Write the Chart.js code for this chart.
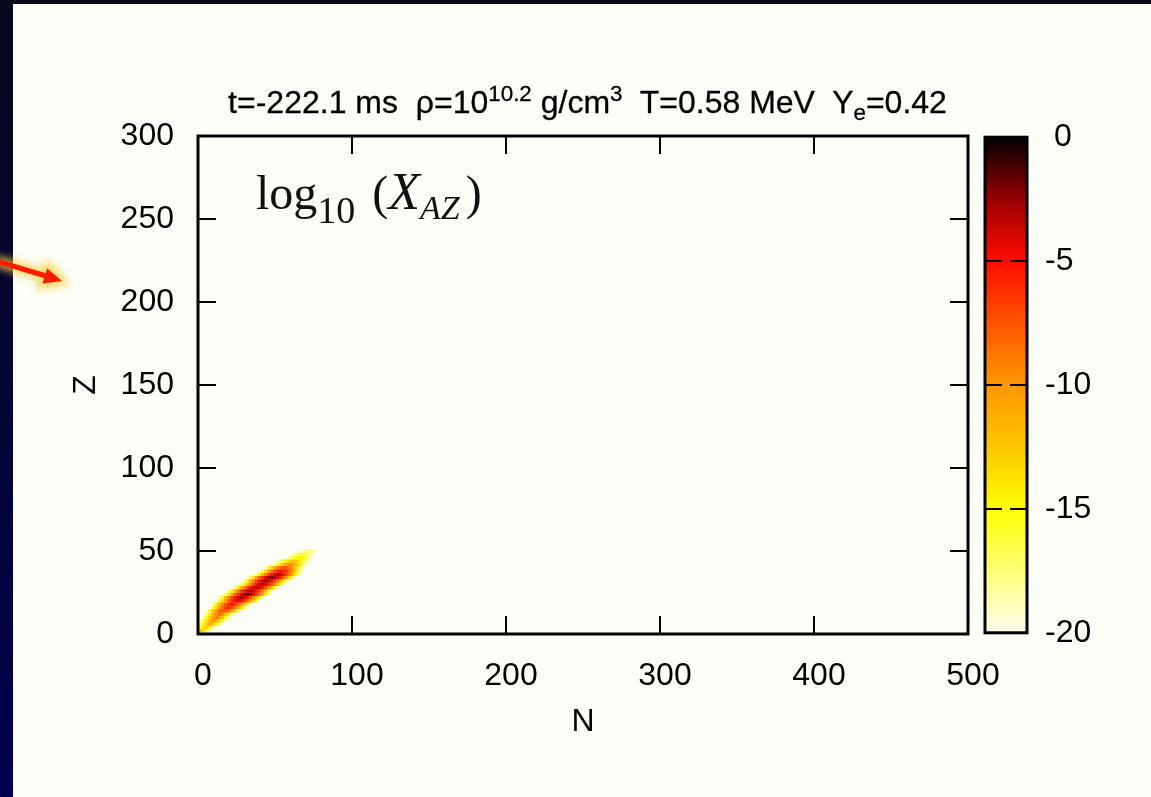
<!DOCTYPE html>
<html>
<head>
<meta charset="utf-8">
<title>log10(X_AZ) nuclear abundance map</title>
<script src="https://cdn.jsdelivr.net/npm/chart.js@4.4.1/dist/chart.umd.min.js"></script>
<style>
    html, body { margin: 0; padding: 0; }
    body {
        width: 1151px; height: 797px; overflow: hidden; position: relative;
        background: linear-gradient(to bottom, #07071c, #00004e);
        font-family: 'Liberation Sans', Arial, sans-serif;
    }
    #panel { position: absolute; left: 13px; top: 4px; right: 0; bottom: 0; background: #fcfff7; }
    canvas { position: absolute; }
    #main { left: 0; top: 0; }
    #cbar { left: 975px; top: 100px; }
    #title {
        position: absolute; left: 0; width: 1175px; top: 86px; text-align: center;
        font-size: 32px; line-height: 32px; white-space: pre; color: #000;
        -webkit-text-stroke: 0.3px #000;
    }
    #title .sup { font-size: 0.7em; position: relative; top: -0.52em; }
    #title .sub { font-size: 0.7em; position: relative; top: 0.32em; }
    #anno {
        position: absolute; left: 256px; top: 168px; white-space: pre; color: #111;
        font-family: 'Liberation Serif', 'DejaVu Serif', serif; font-size: 48px; line-height: 48px;
    }
    #anno .n10 { font-size: 38px; position: relative; top: 14px; }
    #anno .par { margin-left: 17px; }
    #anno .x { font-style: italic; font-size: 52px; }
    #anno .az { font-style: italic; font-size: 34px; position: relative; top: 10px; }
    #anno .cl { margin-left: 6px; }
    #arrow { position: absolute; left: 0; top: 240px; }
</style>
</head>
<body>
<div id="panel"></div>
<canvas id="main" width="1151" height="797"></canvas>
<canvas id="cbar" width="176" height="570"></canvas>
<div id="title">t=-222.1 ms  ρ=10<span class="sup">10.2</span> g/cm<span class="sup">3</span>  T=0.58 MeV  Y<span class="sub">e</span>=0.42</div>
<div id="anno">log<span class="n10">10</span><span class="par">(</span><span class="x">X</span><span class="az">AZ</span><span class="cl">)</span></div>
<svg id="arrow" width="90" height="60" viewBox="0 240 90 60">
    <defs>
        <filter id="glow" x="-50%" y="-50%" width="200%" height="200%">
            <feGaussianBlur stdDeviation="4"/>
        </filter>
    </defs>
    <g filter="url(#glow)" opacity="0.85">
        <line x1="-4" y1="261" x2="46" y2="276" stroke="#ffcf40" stroke-width="11"/>
        <polygon points="63,281.5 41,285 48,266" fill="#ffcf40" stroke="#ffcf40" stroke-width="7"/>
    </g>
    <line x1="-4" y1="261" x2="46" y2="276" stroke="#ff1a00" stroke-width="5"/>
    <polygon points="62,281 42.4,283.6 47.2,268.4" fill="#ff1a00"/>
</svg>

<script>
// axis ranges and ticks
const nRange = [0, 500];
const zRange = [0, 300];
const nTickStep = 100;
const zTickStep = 50;

// colour scale for log10(X_AZ)
const cbTicks = [-20, -15, -10, -5, 0];
const cbStops = [-20, -17.5, -15, -12.5, -10, -7.5, -5, -2.5, 0];
const cbColors = ['#fffff0', '#ffff78', '#ffff00', '#ffc600', '#ff9800', '#ff5400', '#ff0c00', '#990000', '#000000'];

// abundance grid: one row per Z, values every nStep neutrons starting at nFirst
const nStep = 2;
const zStep = 2;
const zRows = [0, 2, 4, 6, 8, 10, 12, 14, 16, 18, 20, 22, 24, 26, 28, 30, 32, 34, 36, 38, 40, 42, 44, 46, 48, 50];
const nFirst = [0, 0, 0, 2, 2, 4, 6, 6, 10, 10, 14, 14, 18, 20, 24, 28, 30, 34, 38, 42, 44, 50, 52, 60, 62, 68];
const logX = [
    [-12, -14, -16.5],
    [-14, -12, -14, -16.5],
    [-18.2, -15.3, -13, -13, -15.3, -18.2],
    [-17, -14.5, -12.5, -11, -12.5, -14.5, -17],
    [-19, -16, -13.5, -11.5, -10, -11.5, -13.5, -16, -19],
    [-18, -15, -12.5, -10.5, -9, -10.5, -12.5, -15, -18],
    [-17, -14, -11.5, -9.5, -8, -9.5, -11.5, -14, -17],
    [-19, -15.5, -12.5, -10.2, -8.6, -7.5, -7.5, -8.6, -10.2, -12.5, -15.5, -19],
    [-16, -13, -10.5, -8.5, -7, -6, -7, -8.5, -10.5, -13, -16],
    [-18.5, -15, -12, -9.5, -7.5, -6, -5, -6, -7.5, -9.5, -12, -15, -18.5],
    [-16, -13, -10.3, -8, -6.2, -4.9, -4, -4.9, -6.2, -8, -10.3, -13, -16],
    [-18.5, -15, -12, -9.3, -7, -5.2, -3.9, -3, -3.9, -5.2, -7, -9.3, -12, -15, -18.5],
    [-17.5, -14, -11, -8.3, -6, -4.2, -2.9, -2, -2.9, -4.2, -6, -8.3, -11, -14, -17.5],
    [-18.5, -15, -12, -9.3, -7, -5.2, -3.9, -3, -3.9, -5.2, -7, -9.3, -12, -15, -18.5],
    [-18.7, -15.2, -12.2, -9.5, -7.2, -5.4, -4.1, -3.2, -4.1, -5.4, -7.2, -9.5, -12.2, -15.2, -18.7],
    [-18.7, -15.2, -12.2, -9.5, -7.2, -5.4, -4.1, -3.2, -4.1, -5.4, -7.2, -9.5, -12.2, -15.2, -18.7],
    [-18.3, -14.8, -11.8, -9.1, -6.8, -5, -3.7, -2.8, -3.7, -5, -6.8, -9.1, -11.8, -14.8, -18.3],
    [-17.5, -14, -11, -8.3, -6, -4.2, -2.9, -2, -2.9, -4.2, -6, -8.3, -11, -14, -17.5],
    [-18.5, -15, -12, -9.3, -7, -5.2, -3.9, -3, -3.9, -5.2, -7, -9.3, -12, -15, -18.5],
    [-16.5, -13.5, -10.8, -8.5, -6.7, -5.4, -4.5, -5.4, -6.7, -8.5, -10.8, -13.5, -16.5],
    [-19, -16, -13.3, -11, -9.2, -7.9, -7, -7.9, -9.2, -11, -13.3, -16, -19],
    [-18.5, -15.8, -13.5, -11.7, -10.4, -9.5, -10.4, -11.7, -13.5, -15.8, -18.5],
    [-19, -17.5, -15.5, -14, -12.8, -12, -12.8, -14, -15.5, -17.5, -19],
    [-17.5, -16, -14.8, -14, -14.8, -16, -17.5],
    [-19, -17.5, -16.3, -15.5, -16.3, -17.5, -19],
    [-19, -17.8, -17, -17.8, -19]
];

Chart.defaults.font.family = "'Liberation Sans', Arial, sans-serif";
Chart.defaults.color = '#000';

const axisFont = { size: 32 };

function hexToRgb(h) {
    const n = parseInt(h.slice(1), 16);
    return [(n >> 16) & 255, (n >> 8) & 255, n & 255];
}
const cbRgb = cbColors.map(hexToRgb);

function heatColor(v) {
    if (v <= cbStops[0]) return cbColors[0];
    for (let i = 1; i < cbStops.length; i++) {
        if (v <= cbStops[i]) {
            const t = (v - cbStops[i - 1]) / (cbStops[i] - cbStops[i - 1]);
            const a = cbRgb[i - 1], b = cbRgb[i];
            const c = a.map((x, k) => Math.round(x + (b[k] - x) * t));
            return `rgb(${c[0]},${c[1]},${c[2]})`;
        }
    }
    return cbColors[cbColors.length - 1];
}

// black frame plus inward tick marks on every side
const frameTicks = {
    id: 'frameTicks',
    afterDatasetsDraw(chart, args, opts) {
        const { ctx, chartArea: a } = chart;
        ctx.save();
        ctx.strokeStyle = '#000';
        ctx.lineWidth = opts.tickWidth;
        ctx.beginPath();
        (opts.axes || []).forEach(id => {
            const s = chart.scales[id];
            s.ticks.forEach(t => {
                if (t.value <= s.min || t.value >= s.max) return;
                const p = Math.round(s.getPixelForValue(t.value));
                if (s.isHorizontal()) {
                    ctx.moveTo(p, a.bottom); ctx.lineTo(p, a.bottom - opts.len);
                    ctx.moveTo(p, a.top); ctx.lineTo(p, a.top + opts.len);
                } else {
                    ctx.moveTo(a.left, p); ctx.lineTo(a.left + opts.len, p);
                    ctx.moveTo(a.right, p); ctx.lineTo(a.right - opts.len, p);
                }
            });
        });
        ctx.stroke();
        ctx.lineWidth = opts.frameWidth;
        ctx.strokeRect(a.left, a.top, a.right - a.left, a.bottom - a.top);
        ctx.restore();
    }
};

const cells = [];
zRows.forEach((z, i) => {
    logX[i].forEach((v, j) => cells.push({ x: nFirst[i] + j * nStep, y: z, v: v }));
});

// square marker just big enough to cover one grid cell
function cellRadius(ctx) {
    const c = ctx.chart;
    if (!c.scales.x || !c.scales.y) return 2;
    const w = Math.abs(c.scales.x.getPixelForValue(nStep) - c.scales.x.getPixelForValue(0));
    const h = Math.abs(c.scales.y.getPixelForValue(zStep) - c.scales.y.getPixelForValue(0));
    return Math.max(w, h) * 0.76;
}

new Chart(document.getElementById('main'), {
    type: 'scatter',
    data: {
        datasets: [{
            data: cells,
            pointStyle: 'rect',
            pointRadius: cellRadius,
            pointBorderWidth: 0,
            pointBackgroundColor: ctx => ctx.raw ? heatColor(ctx.raw.v) : 'transparent',
            clip: 0
        }]
    },
    options: {
        responsive: false,
        animation: false,
        events: [],
        layout: { padding: { left: 60, top: 136, right: 183, bottom: 43 } },
        plugins: {
            legend: { display: false },
            tooltip: { enabled: false },
            frameTicks: { axes: ['x', 'y'], len: 18, tickWidth: 2, frameWidth: 3 }
        },
        scales: {
            x: {
                type: 'linear', min: nRange[0], max: nRange[1],
                ticks: { stepSize: nTickStep, font: axisFont, padding: 23, labelOffset: 5, maxRotation: 0 },
                grid: { display: false, drawTicks: false },
                border: { display: false },
                title: { display: true, text: 'N', font: axisFont, padding: { top: 0, bottom: 13 } },
                afterFit: s => { s.height = 120; }
            },
            y: {
                type: 'linear', min: zRange[0], max: zRange[1],
                ticks: { stepSize: zTickStep, font: axisFont, padding: 24 },
                grid: { display: false, drawTicks: false },
                border: { display: false },
                title: { display: true, text: 'Z', font: axisFont, padding: { top: 7, bottom: 0 } },
                afterFit: s => { s.width = 138; }
            }
        }
    },
    plugins: [frameTicks]
});

// colour bar: one floating bar spanning the scale, filled with the palette
new Chart(document.getElementById('cbar'), {
    type: 'bar',
    data: {
        labels: [''],
        datasets: [{
            data: [[cbTicks[0], cbTicks[cbTicks.length - 1]]],
            barPercentage: 1,
            categoryPercentage: 1,
            borderWidth: 0,
            backgroundColor: ctx => {
                const c = ctx.chart;
                const ys = c.scales.y;
                if (!ys || !c.chartArea) return cbColors[0];
                const lo = cbStops[0], hi = cbStops[cbStops.length - 1];
                const g = c.ctx.createLinearGradient(0, ys.getPixelForValue(lo), 0, ys.getPixelForValue(hi));
                cbStops.forEach((s, i) => g.addColorStop((s - lo) / (hi - lo), cbColors[i]));
                return g;
            }
        }]
    },
    options: {
        responsive: false,
        animation: false,
        events: [],
        layout: { padding: { left: 10, top: 34, right: 0, bottom: 35 } },
        plugins: {
            legend: { display: false },
            tooltip: { enabled: false },
            frameTicks: { axes: ['y'], len: 17, tickWidth: 2, frameWidth: 3 }
        },
        scales: {
            x: { display: false },
            y: {
                position: 'right',
                min: cbTicks[0], max: cbTicks[cbTicks.length - 1],
                afterBuildTicks: s => { s.ticks = cbTicks.map(v => ({ value: v })); },
                ticks: { font: axisFont, padding: 18, callback: v => (v === 0 ? ' 0' : String(v)) },
                grid: { display: false, drawTicks: false },
                border: { display: false },
                afterFit: s => { s.width = 124; }
            }
        }
    },
    plugins: [frameTicks]
});
</script>
</body>
</html>
